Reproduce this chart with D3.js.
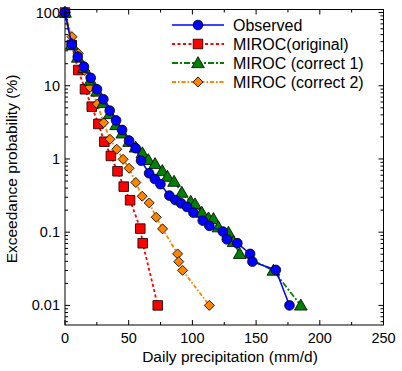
<!DOCTYPE html>
<html><head><meta charset="utf-8">
<script src="https://cdn.jsdelivr.net/npm/d3@7"></script>
<style>body{margin:0;background:#fff}svg{display:block}text{font-family:"Liberation Sans",Arial,Helvetica,sans-serif}</style>
</head><body>
<svg id="c" width="402" height="371"></svg>
<script>
const obsX = [0,5.3,10,14.9,20.2,25.1,30.1,35.1,40.1,44.8,50.3,55.5,59.7,66,70.5,74.9,81.9,86.6,91.1,95.8,100.8,108.1,113.3,123.9,127,135.3,145.3,147.1,165.5,176.2];
const obsY = [100,36.8,24.9,18.2,12.8,8.95,6.53,4.57,3.36,2.49,1.78,1.40,0.948,0.638,0.533,0.452,0.316,0.275,0.248,0.221,0.185,0.144,0.122,0.102,0.080,0.0707,0.0505,0.0396,0.0305,0.01];
const origX = [0,5.3,10.4,15.7,21,26.2,30.9,36,41.2,46.1,51.1,59.1,61,72.8];
const origY = [100,36,16.4,8.95,5.18,3.01,1.72,1.10,0.679,0.419,0.273,0.112,0.0706,0.01];
const c1X = [0,5.3,10,14.9,20,25.1,30.1,35.1,40.1,45,50.3,55.4,60.7,65.4,70.7,76.4,80.4,85.6,91.7,98.7,102.1,107.4,112.6,116.5,120.4,128.3,132.3,137.1,163.6,185.1];
const c1Y = [100,36.6,24.3,17.5,11.8,8.35,5.82,4.11,2.91,2.24,1.72,1.44,1.20,0.969,0.855,0.686,0.573,0.490,0.347,0.261,0.241,0.185,0.155,0.152,0.117,0.0986,0.0736,0.0505,0.0299,0.01];
const c2X = [0,5.5,10.4,15.2,19.6,25.4,30.4,35.3,40.6,45.6,50.3,55.6,60.6,66.1,71.6,76.6,88.4,89.3,92.3,113.3];
const c2Y = [100,46.7,27.7,16.2,9.53,5.63,3.13,1.86,1.36,0.99,0.746,0.477,0.310,0.251,0.160,0.111,0.0505,0.0396,0.0301,0.01];
const xTicks = [0,50,100,150,200,250];
const yTicks = [0.01,0.1,1,10,100];
const yTickLabels = ["0.01","0.1","1","10","100"];
const seriesNames = ["Observed","MIROC(original)","MIROC (correct 1)","MIROC (correct 2)"];

const svg = d3.select("#c");
const L=65,R=383.5,T=9.5,B=325;
const x = d3.scaleLinear().domain([0,250]).range([L,R]);
const y = d3.scaleLog().domain([0.0054,110]).range([B,T]);

const series = [
  {name:seriesNames[1], xs:origX, ys:origY, color:"#ff0000", dash:"3,2.5", shape:"square", w:1.8},
  {name:seriesNames[3], xs:c2X, ys:c2Y, color:"#ff8400", dash:"4,2,1.5,2", shape:"diamond", w:1.8},
  {name:seriesNames[2], xs:c1X, ys:c1Y, color:"#008000", dash:"6,2,2,2", shape:"triangle", w:1.8},
  {name:seriesNames[0], xs:obsX, ys:obsY, color:"#0000ff", dash:null, shape:"circle", w:1.5}
];
const sym = {
  circle: d3.symbol().type(d3.symbolCircle).size(74),
  square: d3.symbol().type(d3.symbolSquare).size(92),
  triangle: d3.symbol().type(d3.symbolTriangle).size(70),
  diamond: d3.symbol().type(d3.symbolSquare).size(50)
};
function marker(g,shape,color,px,py){
  const p = g.append("path").attr("d",sym[shape]()).attr("fill",color).attr("stroke","#000").attr("stroke-width",0.8);
  if(shape==="diamond") p.attr("transform",`translate(${px},${py}) rotate(45)`);
  else if(shape==="triangle") p.attr("transform",`translate(${px},${py+1})`);
  else p.attr("transform",`translate(${px},${py})`);
}
const plot = svg.append("g");
series.forEach(s=>{
  const pts = s.xs.map((v,i)=>[v,s.ys[i]]);
  plot.append("path").attr("d",d3.line().x(d=>x(d[0])).y(d=>y(d[1]))(pts))
    .attr("fill","none").attr("stroke",s.color).attr("stroke-width",s.w).attr("stroke-dasharray",s.dash);
  pts.forEach(d=>marker(plot,s.shape,s.color,x(d[0]),y(d[1])));
});

// frame and ticks
const ax = svg.append("g").attr("stroke","#000").attr("stroke-width",1);
ax.append("rect").attr("x",L).attr("y",T).attr("width",R-L).attr("height",B-T).attr("fill","none");
for(let v=0; v<=250; v+=25){
  const len = v%50===0?5:3;
  ax.append("line").attr("x1",x(v)).attr("x2",x(v)).attr("y1",B).attr("y2",B-len);
  ax.append("line").attr("x1",x(v)).attr("x2",x(v)).attr("y1",T).attr("y2",T+len);
}
const [y0,y1]=y.domain();
for(let e=-3;e<=2;e++){
  for(let m=1;m<=9;m++){
    const v=m*Math.pow(10,e);
    if(v<y0||v>y1) continue;
    const len = m===1?5:3;
    ax.append("line").attr("x1",L).attr("x2",L+len).attr("y1",y(v)).attr("y2",y(v));
    ax.append("line").attr("x1",R).attr("x2",R-len).attr("y1",y(v)).attr("y2",y(v));
  }
}
const lab = svg.append("g").attr("font-size",14.5).attr("fill","#000");
xTicks.forEach(v=>lab.append("text").attr("x",x(v)).attr("y",B+18).attr("text-anchor","middle").text(String(v)));
yTicks.forEach((v,i)=>lab.append("text").attr("x",L-5).attr("y",y(v)+5).attr("text-anchor","end").text(yTickLabels[i]));
svg.append("text").attr("x",230).attr("y",362).attr("text-anchor","middle").attr("font-size",15.5).text("Daily precipitation (mm/d)");
svg.append("text").attr("transform","translate(17,169) rotate(-90)").attr("text-anchor","middle").attr("font-size",15.5).text("Exceedance probability (%)");

// legend
const legOrder=[3,0,2,1];
const leg = svg.append("g");
legOrder.forEach((si,i)=>{
  const s=series[si]; const ly=25+i*19;
  leg.append("line").attr("x1",172).attr("x2",224).attr("y1",ly).attr("y2",ly).attr("stroke",s.color).attr("stroke-width",s.w).attr("stroke-dasharray",s.dash);
  marker(leg,s.shape,s.color,198,ly);
  leg.append("text").attr("x",233).attr("y",ly+5.5).attr("font-size",16).text(s.name);
});
</script>
</body></html>
